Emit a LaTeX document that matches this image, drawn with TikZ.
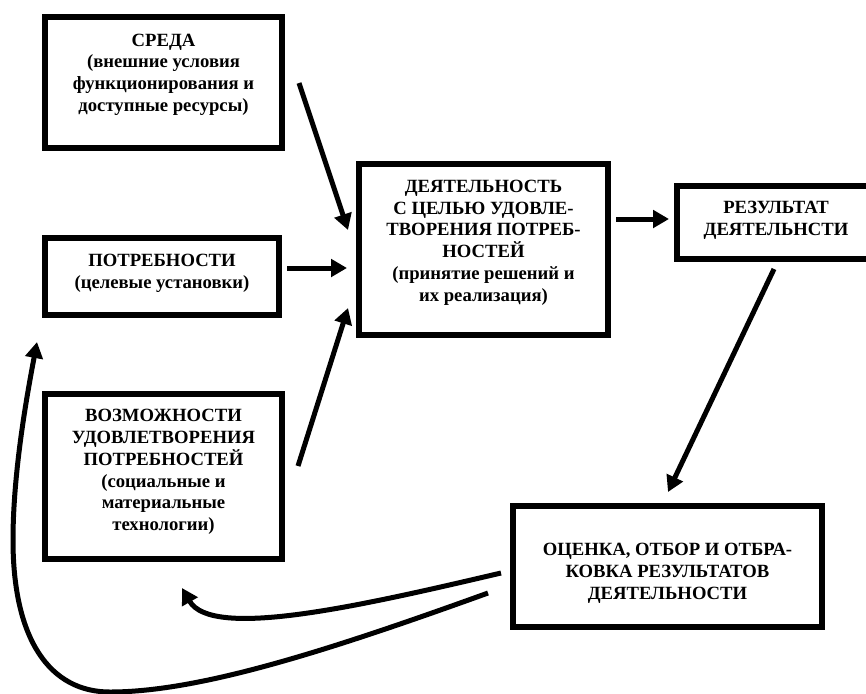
\documentclass[tikz,border=0pt]{standalone}
\usepackage{fontspec}
\setmainfont{Liberation Serif}
\usetikzlibrary{arrows.meta,calc}

\tikzset{
	blk/.style={draw, line width=4.5pt, inner sep=0pt},
	lbl/.style={align=center, inner sep=0pt, font=\fontsize{14}{16.3}\selectfont\bfseries},
	arr/.style={line width=3.75pt, -{Triangle[length=12pt,width=13pt]}},
}

\begin{document}
\begin{tikzpicture}[x=0.75pt,y=0.75pt,yscale=-1,xscale=1]
			\useasboundingbox (0,0) rectangle (866,693);
			\clip (0,0) rectangle (866,693);

			%Rect [sreda] 
			\node [blk, minimum width=177.75pt, minimum height=98.25pt] (sreda) at (163.5,82.5) {};
			%Rect [potr] 
			\node [blk, minimum width=175.5pt, minimum height=57.75pt] (potr) at (162,276.5) {};
			%Rect [vozm] 
			\node [blk, minimum width=177.75pt, minimum height=123.75pt] (vozm) at (163.5,476.5) {};
			%Rect [deyat] 
			\node [blk, minimum width=186.75pt, minimum height=128.25pt] (deyat) at (483.5,249.5) {};
			%Rect [rez] 
			\node [blk, minimum width=148.5pt, minimum height=54.75pt] (rez) at (776,222.5) {};
			%Rect [ocenka] 
			\node [blk, minimum width=231.75pt, minimum height=90.75pt] (ocenka) at (667.5,566.5) {};

			%Straight Lines 
			\draw [arr] ($(sreda.east)+(14,0.5)$) -- ($(deyat.west)+(-8,-19.5)$);
			%Straight Lines 
			\draw [arr] ($(potr.east)+(5,-8.5)$) -- ($(deyat.west)+(-9,18.5)$);
			%Straight Lines 
			\draw [arr] ($(vozm.east)+(13,-10.5)$) -- ($(deyat.west)+(-8,58.5)$);
			%Straight Lines 
			\draw [arr] ($(deyat.east)+(5,-30.5)$) -- ($(rez.west)+(-5,-3.5)$);
			%Straight Lines 
			\draw [arr] ($(rez.south)+(-2,7)$) -- ($(ocenka.north)+(0.5,-11)$);
			%Curve Lines 
			\draw [arr] ($(ocenka.west)+(-9,6.5)$) .. controls (360,606) and (212,640) .. ($(vozm.south)+(18.5,26)$);
			%Curve Lines 
			\draw [arr] ($(ocenka.west)+(-22,26.5)$) .. controls (330,650) and (200,692) .. (110,692) .. controls (50,692) and (13,640) .. (13,540) .. controls (13,470) and (28,390) .. ($(potr.south west)+(-5,24)$);

			% Text Node
			\node [lbl] (sredatxt) at ($(sreda.center)+(0,-8)$) {СРЕДА\\(внешние условия\\функционирования и\\доступные ресурсы)};
			% Text Node
			\node [lbl] (potrtxt) at ($(potr.center)+(0,-3)$) {ПОТРЕБНОСТИ\\(целевые установки)};
			% Text Node
			\node [lbl] (vozmtxt) at ($(vozm.center)+(0,-4.5)$) {ВОЗМОЖНОСТИ\\УДОВЛЕТВОРЕНИЯ\\ПОТРЕБНОСТЕЙ\\(социальные и\\материальные\\технологии)};
			% Text Node
			\node [lbl] (deyattxt) at ($(deyat.center)+(0,-7)$) {ДЕЯТЕЛЬНОСТЬ\\С ЦЕЛЬЮ УДОВЛЕ-\\ТВОРЕНИЯ ПОТРЕБ-\\НОСТЕЙ\\(принятие решений и\\их реализация)};
			% Text Node
			\node [lbl] (reztxt) at ($(rez.center)+(0,-2)$) {РЕЗУЛЬТАТ\\ДЕЯТЕЛЬНСТИ};
			% Text Node
			\node [lbl] (ocenkatxt) at ($(ocenka.center)+(0,7)$) {ОЦЕНКА, ОТБОР И ОТБРА-\\КОВКА РЕЗУЛЬТАТОВ\\ДЕЯТЕЛЬНОСТИ};

\end{tikzpicture}
\end{document}
